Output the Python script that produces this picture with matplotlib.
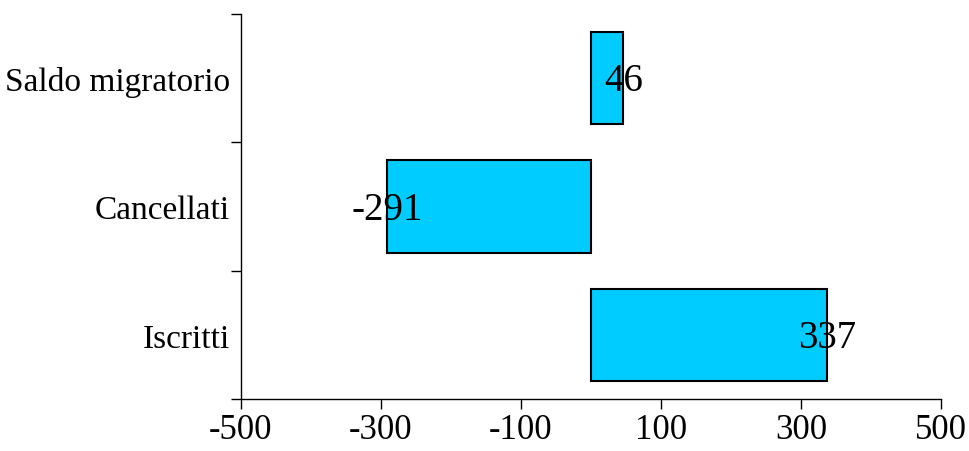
import matplotlib.pyplot as plt
from matplotlib.ticker import FixedLocator

plt.rcParams['font.family'] = ['Liberation Serif', 'DejaVu Serif']

categories = ["Iscritti", "Cancellati", "Saldo migratorio"]
values = [337, -291, 46]
xticks = [-500, -300, -100, 100, 300, 500]

fig = plt.figure(figsize=(9.69, 4.52), dpi=100)
ax = fig.add_axes([0.2487, 0.115, 0.7224, 0.852])

y = range(len(categories))
ax.barh(y, values, height=0.72, color="#00CCFF", edgecolor="black", linewidth=1.5)
for i, v in zip(y, values):
    ax.text(v, i - 0.02, str(v), ha="center", va="center", fontsize=28)

ax.set_xlim(-500, 500)
ax.set_ylim(-0.5, 2.5)
ax.set_xticks(xticks)
ax.set_xticklabels([str(t) for t in xticks], fontsize=25)
ax.set_yticks(list(y))
ax.set_yticklabels(categories, fontsize=24)
ax.tick_params(axis="y", length=0, pad=8)
ax.yaxis.set_minor_locator(FixedLocator([-0.5, 0.5, 1.5, 2.5]))
ax.tick_params(axis="y", which="minor", length=7, width=1, direction="out")
ax.tick_params(axis="x", length=7, width=1, direction="out", pad=3)
for s in ["top", "right"]:
    ax.spines[s].set_visible(False)
ax.spines["left"].set_linewidth(1)
ax.spines["bottom"].set_linewidth(1)

fig.savefig("out.png", dpi=100)
